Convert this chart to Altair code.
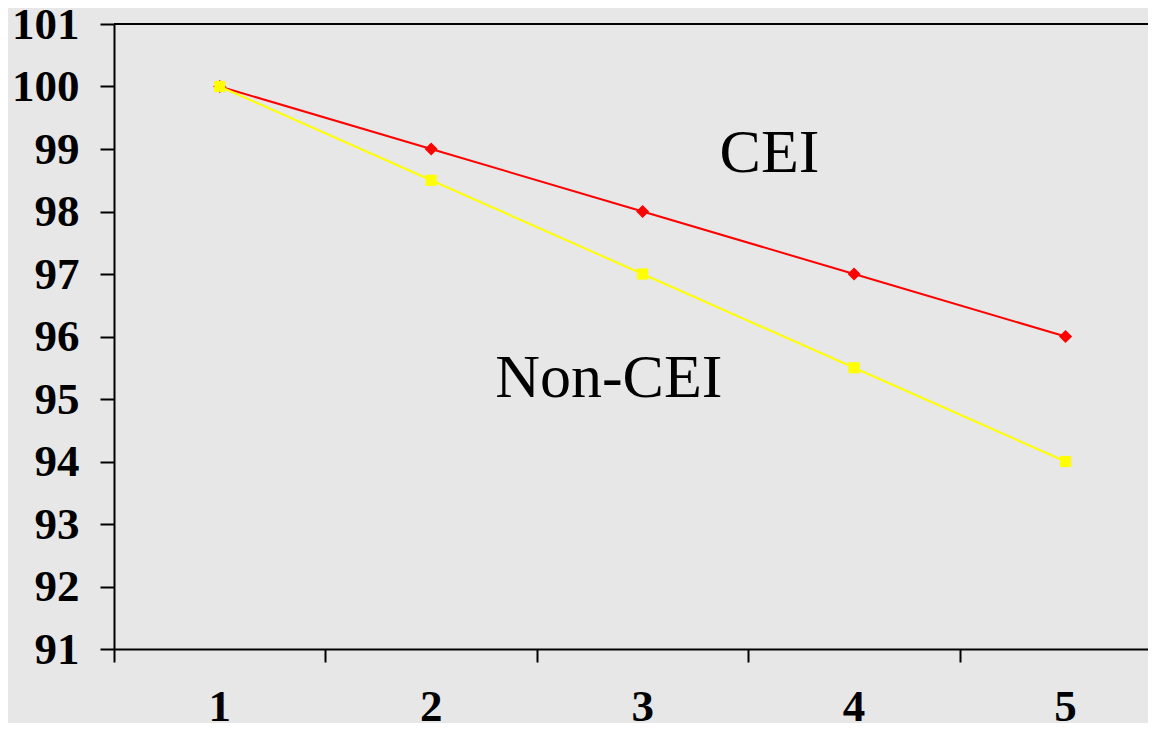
import altair as alt
import pandas as pd

# ---- data ----
periods = [1, 2, 3, 4, 5]
cei = [100, 99, 98, 97, 96]
non_cei = [100, 98.5, 97, 95.5, 94]
series_names = ["CEI", "Non-CEI"]
series_colors = ["#ff0000", "#ffff00"]
series_shapes = ["diamond", "square"]
series_sizes = [170, 125]
y_ticks = list(range(91, 102))
x_boundaries = [0.5, 1.5, 2.5, 3.5, 4.5]
x_domain = [0.5, 5.39]
y_domain = [91, 101]
annot_text = ["CEI", "Non-CEI"]
annot_x = [3.6, 2.84]
annot_y = [98.63, 95.03]

df = pd.DataFrame({
    "period": periods * 2,
    "value": cei + non_cei,
    "series": [series_names[0]] * len(periods) + [series_names[1]] * len(periods),
})
annot_df = pd.DataFrame({"text": annot_text, "x": annot_x, "y": annot_y})
xlab_df = pd.DataFrame({"period": periods, "label": [str(p) for p in periods]})
top_df = pd.DataFrame({"v": [y_domain[1]]})

FONT = "Liberation Serif"

x_axis = alt.Axis(values=x_boundaries, labels=False, title=None, grid=False,
                  tickSize=13, tickWidth=2, tickColor="black",
                  domainColor="black", domainWidth=2)
y_axis = alt.Axis(values=y_ticks, title=None, grid=False, tickSize=14, tickWidth=2,
                  tickColor="black", domainColor="black", domainWidth=2,
                  labelFont=FONT, labelFontWeight="bold", labelFontSize=45,
                  labelColor="black", labelPadding=21, labelFlush=False)
x_scale = alt.Scale(domain=x_domain, nice=False, zero=False)
y_scale = alt.Scale(domain=y_domain, nice=False, zero=False)

color_scale = alt.Scale(domain=series_names, range=series_colors)
shape_scale = alt.Scale(domain=series_names, range=series_shapes)
size_scale = alt.Scale(domain=series_names, range=series_sizes)

base = alt.Chart(df)

top_rule = alt.Chart(top_df).mark_rule(color="black", strokeWidth=2).encode(
    y=alt.Y("v:Q", scale=y_scale, axis=y_axis)
)

lines = base.mark_line(strokeWidth=2).encode(
    x=alt.X("period:Q", scale=x_scale, axis=x_axis),
    y=alt.Y("value:Q", scale=y_scale, axis=y_axis),
    color=alt.Color("series:N", scale=color_scale, legend=None),
)

points = base.mark_point(filled=True, opacity=1, strokeWidth=0).encode(
    x=alt.X("period:Q", scale=x_scale, axis=x_axis),
    y=alt.Y("value:Q", scale=y_scale, axis=y_axis),
    color=alt.Color("series:N", scale=color_scale, legend=None),
    shape=alt.Shape("series:N", scale=shape_scale, legend=None),
    size=alt.Size("series:N", scale=size_scale, legend=None),
)

annots = alt.Chart(annot_df).mark_text(
    font=FONT, fontSize=62, color="black", align="center", baseline="alphabetic"
).encode(
    x=alt.X("x:Q", scale=x_scale, axis=x_axis),
    y=alt.Y("y:Q", scale=y_scale, axis=y_axis),
    text="text:N",
)

xlabels = alt.Chart(xlab_df).mark_text(
    font=FONT, fontSize=45, fontWeight="bold", color="black",
    align="center", baseline="alphabetic"
).encode(
    x=alt.X("period:Q", scale=x_scale, axis=x_axis),
    y=alt.value(697),
    text="label:N",
)

chart = alt.layer(top_rule, lines, points, annots, xlabels).properties(
    width=1034,
    height=625,
    padding={"left": 106, "top": 16, "right": 0, "bottom": 74},
    autosize=alt.AutoSizeParams(type="none"),
).configure(
    background="#e6e7e6",
).configure_view(
    stroke=None,
)

chart.save("out.html", embed_options={"renderer": "svg", "actions": False})
